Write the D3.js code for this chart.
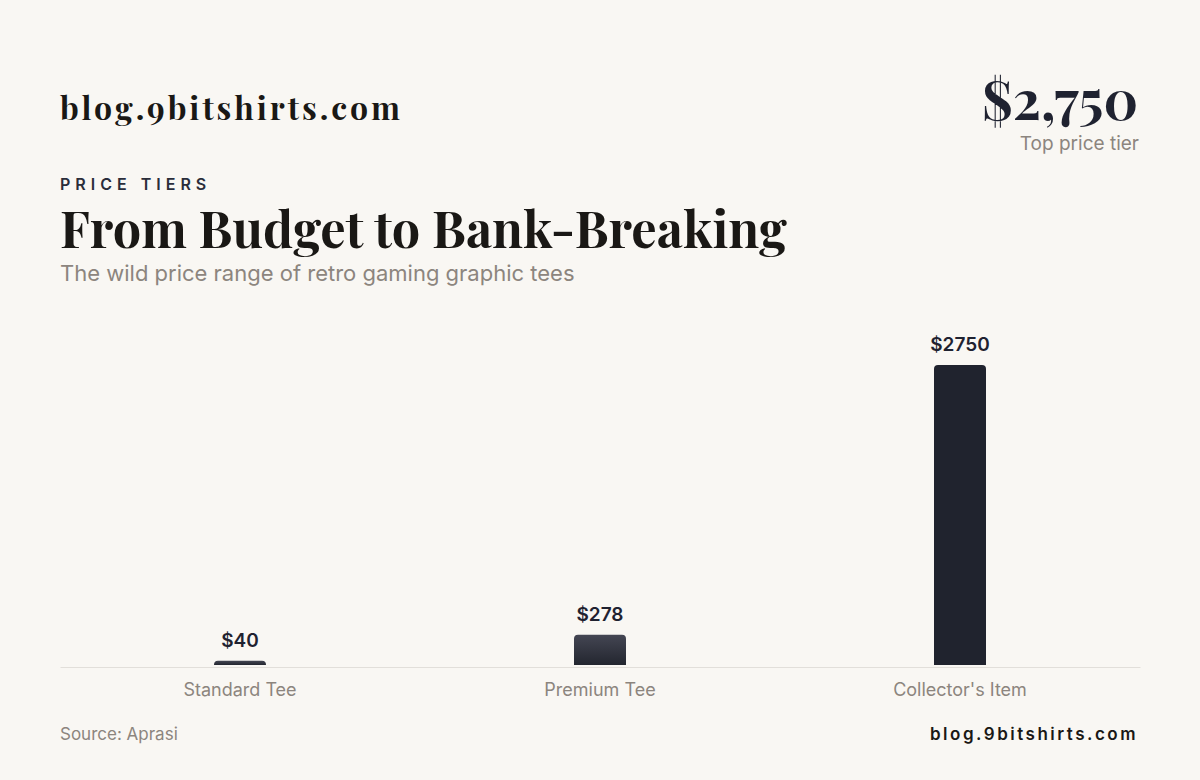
<!DOCTYPE html>
<html>
<head>
<meta charset="utf-8">
<script src="https://cdn.jsdelivr.net/npm/d3@7"></script>
<style>
  body { margin: 0; background: #f9f7f3; }
  #chart { width: 1200px; height: 780px; }
</style>
</head>
<body>
<div id="chart"></div>
<script>
// Data
const categories = ["Standard Tee", "Premium Tee", "Collector's Item"];
const prices = [40, 278, 2750];
const valueLabels = ["$40", "$278", "$2750"];

const serif = "'Playfair Display', 'DejaVu Serif', 'Liberation Serif', serif";
const sans = "Inter, 'Noto Sans', sans-serif";

const W = 1200, H = 780;
const margin = {top: 365, right: 60, bottom: 115, left: 60};
const width = W - margin.left - margin.right;
const height = H - margin.top - margin.bottom;

const svg = d3.select("#chart").append("svg")
    .attr("width", W)
    .attr("height", H);

svg.append("rect").attr("width", W).attr("height", H).attr("fill", "#f9f7f3");

// Gradient for the smaller bars
const defs = svg.append("defs");
const grad = defs.append("linearGradient")
    .attr("id", "barGrad")
    .attr("x1", 0).attr("y1", 0).attr("x2", 0).attr("y2", 1);
grad.append("stop").attr("offset", "0%").attr("stop-color", "#444653");
grad.append("stop").attr("offset", "100%").attr("stop-color", "#23262f");

// fit a text element to a target width by adjusting its font size
function fitWidth(sel, target) {
    let w = sel.node().getComputedTextLength();
    let fs = parseFloat(sel.attr("font-size"));
    sel.attr("font-size", fs * target / w);
}

// fit by letter spacing instead
function fitSpacing(sel, target) {
    let txt = sel.text();
    let w = sel.node().getComputedTextLength();
    let ls = parseFloat(sel.attr("letter-spacing") || 0);
    sel.attr("letter-spacing", ls + (target - w) / txt.length);
}

// Header
svg.append("text")
    .attr("x", 60).attr("y", 120)
    .attr("font-family", serif).attr("font-weight", 700)
    .attr("font-size", 32).attr("fill", "#1a1815")
    .attr("letter-spacing", 0)
    .text("blog.9bitshirts.com")
    .call(fitSpacing, 343);

svg.append("text")
    .attr("x", 1138).attr("y", 120)
    .attr("text-anchor", "end")
    .attr("font-family", serif).attr("font-weight", 700)
    .attr("font-size", 54).attr("fill", "#1f2230")
    .text("$2,750")
    .call(fitWidth, 156);

svg.append("text")
    .attr("x", 1139).attr("y", 150)
    .attr("text-anchor", "end")
    .attr("font-family", sans)
    .attr("font-size", 19).attr("fill", "#8c857e")
    .text("Top price tier");

svg.append("text")
    .attr("x", 60).attr("y", 190)
    .attr("font-family", sans).attr("font-weight", 600)
    .attr("font-size", 16).attr("fill", "#2a2d3a")
    .attr("letter-spacing", 5)
    .text("PRICE TIERS");

svg.append("text")
    .attr("x", 60).attr("y", 248)
    .attr("font-family", serif).attr("font-weight", 700)
    .attr("font-size", 50).attr("fill", "#1a1815")
    .text("From Budget to Bank-Breaking")
    .call(fitWidth, 727);

svg.append("text")
    .attr("x", 60).attr("y", 281)
    .attr("font-family", sans)
    .attr("font-size", 22).attr("fill", "#8c857e")
    .text("The wild price range of retro gaming graphic tees");

// Chart area
const g = svg.append("g")
    .attr("transform", `translate(${margin.left}, ${margin.top})`);

const x = d3.scaleBand()
    .domain(categories)
    .range([0, width])
    .padding(0);

const y = d3.scaleLinear()
    .domain([0, d3.max(prices)])
    .range([height, 0]);

const barW = 52;
const maxPrice = d3.max(prices);

// Bars with rounded top corners
function barPath(x0, y0, w, h, r) {
    r = Math.min(r, h, w / 2);
    return `M${x0},${y0 + h}V${y0 + r}Q${x0},${y0} ${x0 + r},${y0}` +
        `H${x0 + w - r}Q${x0 + w},${y0} ${x0 + w},${y0 + r}V${y0 + h}Z`;
}

g.selectAll(".bar")
    .data(prices)
    .enter()
    .append("path")
    .attr("class", "bar")
    .attr("fill", d => d === maxPrice ? "#20232e" : "url(#barGrad)")
    .attr("d", (d, i) => {
        let cx = x(categories[i]) + x.bandwidth() / 2;
        return barPath(cx - barW / 2, y(d), barW, height - y(d), 4);
    });

// Value labels
g.selectAll(".val")
    .data(prices)
    .enter()
    .append("text")
    .attr("class", "val")
    .attr("x", (d, i) => x(categories[i]) + x.bandwidth() / 2)
    .attr("y", d => y(d) - 14)
    .attr("text-anchor", "middle")
    .attr("font-family", sans).attr("font-weight", 600)
    .attr("font-size", 19).attr("fill", "#1f2230")
    .text((d, i) => valueLabels[i]);

// X axis
const xAxis = d3.axisBottom(x).tickSize(0).tickPadding(16);
const axisG = g.append("g")
    .attr("transform", `translate(0, ${height + 2})`)
    .call(xAxis);
axisG.select(".domain").attr("stroke", "#e2dfda").attr("stroke-width", 1);
axisG.selectAll("text")
    .attr("font-family", sans)
    .attr("font-size", 18)
    .attr("fill", "#8c857e");

// Footer
svg.append("text")
    .attr("x", 60).attr("y", 740)
    .attr("font-family", sans)
    .attr("font-size", 17).attr("fill", "#8c857e")
    .text("Source: Aprasi");

svg.append("text")
    .attr("x", 1138).attr("y", 740)
    .attr("text-anchor", "end")
    .attr("font-family", sans).attr("font-weight", 600)
    .attr("font-size", 17).attr("fill", "#1a1815")
    .attr("letter-spacing", 2.5)
    .text("blog.9bitshirts.com");
</script>
</body>
</html>
